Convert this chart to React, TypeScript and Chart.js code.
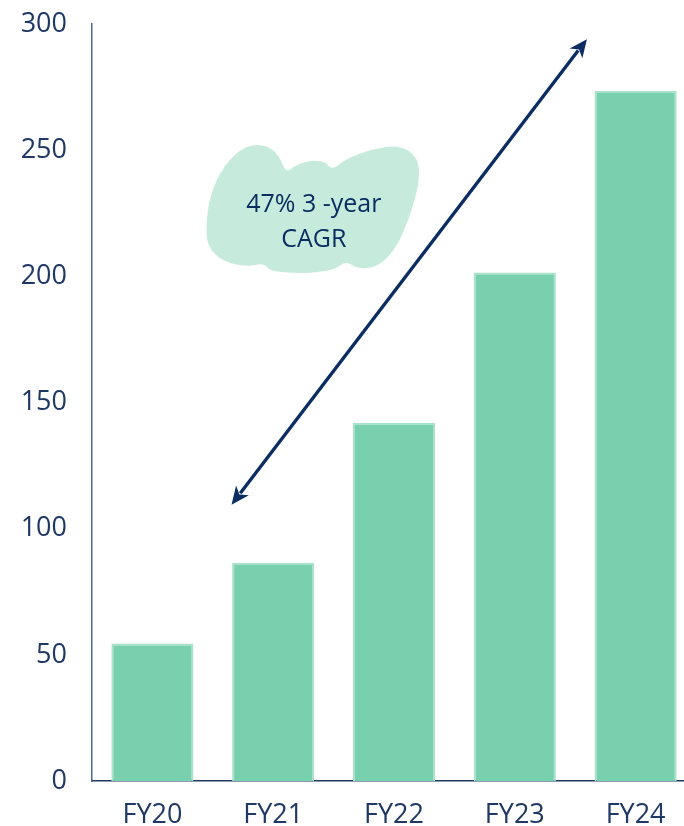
import React, { useEffect, useRef } from "react";
import { Chart, registerables } from "chart.js";

Chart.register(...registerables);

const categories = ["FY20", "FY21", "FY22", "FY23", "FY24"];
const revenue = [54.5, 86.5, 142, 201.5, 273.5];
const yTicks = [0, 50, 100, 150, 200, 250, 300];
const cagrLines = ["47% 3 -year", "CAGR"];
// arrow ends in data space: [category index, value]
const arrowStart = [0.655, 109.5];
const arrowEnd = [3.597, 294];
const cloudAnchor = [1.32, 227.5];

const NAVY = "#0b2d61";
const TEXT = "#1f3864";

// cloud outline offsets (px) around anchor
const cloudPts: [number, number][] = [
  [-106, 20], [-102, -12], [-88, -42], [-66, -62], [-44, -62], [-32, -50], [-26, -34],
  [-16, -42], [0, -47], [14, -45], [20, -37], [34, -48], [60, -58], [88, -62],
  [106, -50], [108, -26], [98, 10], [84, 42], [66, 60], [46, 62], [34, 54],
  [24, 62], [2, 66], [-20, 66], [-42, 64], [-48, 56], [-66, 60], [-90, 54], [-104, 40],
];

const overlayPlugin = {
  id: "overlay",
  afterDatasetsDraw(chart: any) {
    const { ctx, scales } = chart;
    const x = scales.x, y = scales.y;
    ctx.save();
    // cloud
    const cx = x.getPixelForValue(cloudAnchor[0]);
    const cy = y.getPixelForValue(cloudAnchor[1]);
    const pts = cloudPts.map(([dx, dy]) => [cx + dx, cy + dy]);
    ctx.beginPath();
    const n = pts.length;
    const mid = (a: number[], b: number[]) => [(a[0] + b[0]) / 2, (a[1] + b[1]) / 2];
    const m0 = mid(pts[n - 1], pts[0]);
    ctx.moveTo(m0[0], m0[1]);
    for (let i = 0; i < n; i++) {
      const p = pts[i];
      const m = mid(p, pts[(i + 1) % n]);
      ctx.quadraticCurveTo(p[0], p[1], m[0], m[1]);
    }
    ctx.closePath();
    ctx.fillStyle = "#c6ebdc";
    ctx.fill();
    // text
    ctx.fillStyle = NAVY;
    ctx.font = "25px 'Open Sans'";
    ctx.textAlign = "center";
    ctx.textBaseline = "middle";
    ctx.fillText(cagrLines[0], cx + 2, cy - 2);
    ctx.fillText(cagrLines[1], cx + 2, cy + 33);
    // arrow
    const x1 = x.getPixelForValue(arrowStart[0]);
    const y1 = y.getPixelForValue(arrowStart[1]);
    const x2 = x.getPixelForValue(arrowEnd[0]);
    const y2 = y.getPixelForValue(arrowEnd[1]);
    const ang = Math.atan2(y2 - y1, x2 - x1);
    const headLen = 18, headW = 8;
    const ux = Math.cos(ang), uy = Math.sin(ang);
    ctx.strokeStyle = NAVY;
    ctx.lineWidth = 3.4;
    ctx.beginPath();
    ctx.moveTo(x1 + ux * headLen * 0.8, y1 + uy * headLen * 0.8);
    ctx.lineTo(x2 - ux * headLen * 0.8, y2 - uy * headLen * 0.8);
    ctx.stroke();
    const head = (px: number, py: number, dx: number, dy: number) => {
      ctx.beginPath();
      ctx.moveTo(px, py);
      ctx.lineTo(px - dx * headLen - dy * headW, py - dy * headLen + dx * headW);
      ctx.lineTo(px - dx * headLen * 0.72, py - dy * headLen * 0.72);
      ctx.lineTo(px - dx * headLen + dy * headW, py - dy * headLen - dx * headW);
      ctx.closePath();
      ctx.fillStyle = NAVY;
      ctx.fill();
    };
    head(x2, y2, ux, uy);
    head(x1, y1, -ux, -uy);
    ctx.restore();
  },
};

export default function App() {
  const ref = useRef<HTMLCanvasElement>(null);
  useEffect(() => {
    if (!ref.current) return;
    const chart = new Chart(ref.current, {
      type: "bar",
      data: {
        labels: categories,
        datasets: [
          {
            data: revenue,
            backgroundColor: "#79d0ae",
            borderColor: "#a8e2ca",
            borderWidth: 2,
            barPercentage: 0.68,
            categoryPercentage: 1,
          },
        ],
      },
      options: {
        responsive: false,
        animation: false,
        layout: { padding: { top: 24, right: 4, left: 0, bottom: 0 } },
        plugins: { legend: { display: false }, tooltip: { enabled: false } },
        scales: {
          x: {
            grid: { display: false, drawTicks: false },
            border: { display: true, color: "#1f3864", width: 1.5 },
            ticks: { color: TEXT, font: { family: "'Open Sans'", size: 27 }, padding: 18 },
            afterFit: (s: any) => { s.height = 45; s.paddingLeft = 0; s.paddingRight = 0; },
          },
          y: {
            min: 0,
            max: 300,
            grid: { display: false, drawTicks: false },
            border: { display: true, color: "#4a6890", width: 1.5 },
            afterBuildTicks: (s: any) => { s.ticks = yTicks.map((v) => ({ value: v })); },
            ticks: { color: TEXT, font: { family: "'Open Sans'", size: 27 }, padding: 25 },
            afterFit: (s: any) => { s.width = 92; s.paddingTop = 0; s.paddingBottom = 0; },
          },
        },
      },
      plugins: [overlayPlugin],
    });
    return () => chart.destroy();
  }, []);
  return (
    <div style={{ position: "absolute", left: 0, top: 0, width: 684, height: 826, overflow: "hidden" }}>
      <canvas ref={ref} width={700} height={826} style={{ display: "block" }} />
    </div>
  );
}
